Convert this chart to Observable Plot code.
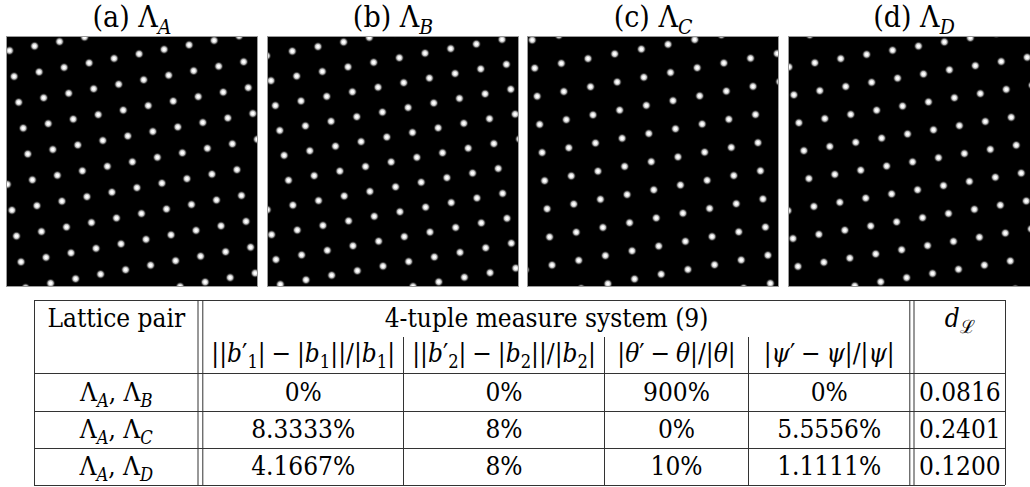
<!DOCTYPE html>
<html><head><meta charset="utf-8">
<script src="https://cdn.jsdelivr.net/npm/d3@7"></script>
<script src="https://cdn.jsdelivr.net/npm/@observablehq/plot@0.6"></script>
<style>
html,body{margin:0;padding:0;background:#fff;overflow:hidden;}
#fig{position:relative;width:1030px;height:487px;overflow:hidden;background:#fff;}
#fig > svg{position:absolute;}
#fig svg text{font-stretch:condensed;}
</style></head><body>
<div id="fig"></div>
<script>
// ---------------- data ----------------
// lattices: an origin lattice point and the two basis vectors (image pixels)
const lattices  = ["A", "B", "C", "D"];
const panelTags = ["(a)", "(b)", "(c)", "(d)"];
const originX = [46.3, 42.3, 41.3, 41.3];
const originY = [113.0, 114.3, 111.3, 110.0];
const b1x = [25.00, 25.67, 26.67, 25.92];
const b1y = [-4.50, -4.58, -4.75, -4.17];
const b2x = [4.56, 4.375, 2.48, 5.00];
const b2y = [25.85, 24.90, 28.14, 27.90];

// table
const headerPair   = "Lattice pair";
const headerSystem = "4-tuple measure system (9)";
const headerDist   = "*d*_ℒ";
const metricHeaders = ["||*b*′_1|\u2005−\u2005|*b*_1||/|*b*_1|", "||*b*′_2|\u2005−\u2005|*b*_2||/|*b*_2|", "|*θ*′\u2005−\u2005*θ*|/|*θ*|", "|*ψ*′\u2005−\u2005*ψ*|/|*ψ*|"];
const pairs       = ["Λ_*A*, Λ_*B*", "Λ_*A*, Λ_*C*", "Λ_*A*, Λ_*D*"];
const b1Change    = ["0%", "8.3333%", "4.1667%"];
const b2Change    = ["0%", "8%", "8%"];
const thetaChange = ["900%", "0%", "10%"];
const psiChange   = ["0%", "5.5556%", "1.1111%"];
const distance    = ["0.0816", "0.2401", "0.1200"];

// ---------------- layout ----------------
const FONT = "'DejaVu Serif Condensed', 'DejaVu Serif', serif";
const panelLeft = [6, 267, 527, 788];
const panelW = 251, panelH = 250, panelTop = 36;
const tbl = {top: 300, split: 337, rows: [373, 411, 448], bottom: 485, left: 34, right: 1005,
             full: [34, 197.5, 202.3, 909.3, 913.5, 1005], partial: [403, 604, 748]};
const colCenter = [115.8, 302.7, 503.5, 676, 828.7, 959.3];
const spanCenter = 546;
const rowCenter = [318.5, 353, 392, 429.5, 466.5];
const TSIZE = 26, HSIZE = 30;

const ns = "http://www.w3.org/2000/svg";
const fig = document.getElementById("fig");

const defs = document.createElementNS(ns, "svg");
defs.setAttribute("width", 0); defs.setAttribute("height", 0);
defs.style.position = "absolute";
defs.innerHTML = `<defs><radialGradient id="glow">
  <stop offset="0%" stop-color="#ffffff"/>
  <stop offset="25%" stop-color="#ffffff"/>
  <stop offset="55%" stop-color="#b0b0b0"/>
  <stop offset="100%" stop-color="#000000" stop-opacity="0"/>
</radialGradient></defs>`;
fig.appendChild(defs);

function tokens(s) {
  const segs = []; let i = 0, italic = false;
  const push = (t, it, sub) => { if (!t) return; const l = segs[segs.length - 1];
    if (l && l.it === it && l.sub === sub) l.t += t; else segs.push({t, it, sub}); };
  while (i < s.length) {
    const c = s[i];
    if (c === "*") { italic = !italic; i++; continue; }
    if (c === "_") { i++;
      if (s[i] === "*") { const j = s.indexOf("*", i + 1); push(s.slice(i + 1, j), true, true); i = j + 1; }
      else { const cp = String.fromCodePoint(s.codePointAt(i)); push(cp, false, true); i += cp.length; }
      continue; }
    push(c, italic, false); i++;
  }
  return segs;
}
function richify(svg, size) {
  svg.querySelectorAll("text").forEach(el => {
    const s = el.textContent;
    if (!/[_*]/.test(s)) return;
    el.textContent = "";
    let down = false; const shift = 0.22 * size;
    for (const seg of tokens(s)) {
      const ts = document.createElementNS(ns, "tspan");
      ts.textContent = seg.t;
      if (seg.it) ts.setAttribute("font-style", "italic");
      if (seg.sub) {
        ts.setAttribute("font-size", (0.7 * size) + "px");
        if (!down) { ts.setAttribute("dy", shift); down = true; }
      } else if (down) { ts.setAttribute("dy", -shift); down = false; }
      el.appendChild(ts);
    }
  });
}

// ---------------- panels ----------------
lattices.forEach((name, k) => {
  const pts = [];
  for (let i = -20; i <= 20; i++) for (let j = -20; j <= 20; j++) {
    const x = originX[k] + i * b1x[k] + j * b2x[k];
    const y = originY[k] + i * b1y[k] + j * b2y[k];
    if (x > -8 && x < panelW + 8 && y > -8 && y < panelH + 8) pts.push({x, y});
  }
  const svg = Plot.plot({
    width: panelW, height: panelH + panelTop,
    marginTop: panelTop, marginBottom: 0, marginLeft: 0, marginRight: 0,
    x: {domain: [0, panelW], axis: null},
    y: {domain: [0, panelH], reverse: true, axis: null},
    style: {background: "transparent", overflow: "visible"},
    marks: [
      Plot.frame({fill: "black", stroke: "none"}),
      Plot.dot(pts, {x: "x", y: "y", r: 5, fill: "url(#glow)", stroke: "none", clip: true}),
      Plot.frame({stroke: "#9a9a9a", strokeWidth: 1}),
      Plot.text([`${panelTags[k]} Λ_*${name}*`], {text: d => d, frameAnchor: "top", lineAnchor: "middle", dy: -19,
        fontSize: HSIZE, fontFamily: FONT, fill: "black"})
    ]
  });
  richify(svg, HSIZE);
  svg.style.left = panelLeft[k] + "px";
  svg.style.top = "0px";
  fig.appendChild(svg);
});

// ---------------- table ----------------
const cells = [];
cells.push({x: colCenter[0], y: rowCenter[0], t: headerPair});
cells.push({x: spanCenter, y: rowCenter[0], t: headerSystem});
cells.push({x: colCenter[5], y: rowCenter[0], t: headerDist});
metricHeaders.forEach((h, c) => cells.push({x: colCenter[c + 1], y: rowCenter[1], t: h}));
const columns = [pairs, b1Change, b2Change, thetaChange, psiChange, distance];
columns.forEach((col, c) => col.forEach((v, r) => cells.push({x: colCenter[c], y: rowCenter[r + 2], t: v})));

const hLines = [tbl.top, ...tbl.rows, tbl.bottom];
const tsvg = Plot.plot({
  width: 1030, height: 201,
  marginTop: 0, marginBottom: 0, marginLeft: 0, marginRight: 0,
  x: {domain: [0, 1030], range: [0, 1030], axis: null},
  y: {domain: [286, 487], range: [0, 201], axis: null},
  style: {background: "transparent", overflow: "visible"},
  marks: [
    Plot.ruleY(hLines, {y: d => d, x1: tbl.left, x2: tbl.right, stroke: "#333", strokeWidth: 1}),
    Plot.ruleX(tbl.full, {x: d => d, y1: tbl.top, y2: tbl.bottom, stroke: "#333", strokeWidth: 1}),
    Plot.ruleX(tbl.partial, {x: d => d, y1: tbl.split, y2: tbl.bottom, stroke: "#333", strokeWidth: 1}),
    Plot.text(cells, {x: "x", y: "y", text: "t", fontSize: TSIZE, fontFamily: FONT, fill: "black", textAnchor: "middle", lineAnchor: "middle"})
  ]
});
richify(tsvg, TSIZE);
tsvg.style.left = "0px";
tsvg.style.top = "286px";
fig.appendChild(tsvg);
</script>
</body></html>
